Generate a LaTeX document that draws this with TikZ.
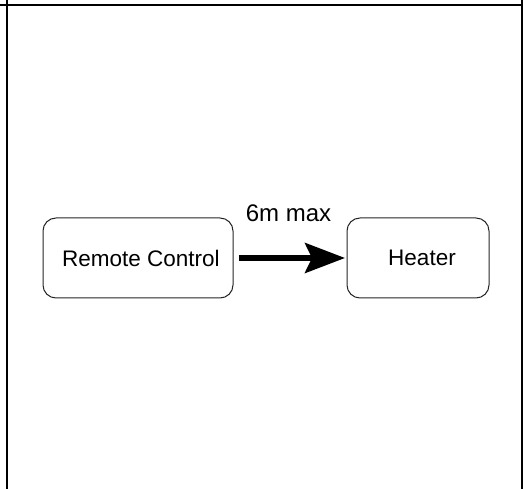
\documentclass[tikz,border=0pt]{standalone}
\usepackage{fontspec}
\setmainfont{Liberation Sans}
\usetikzlibrary{arrows.meta}

\tikzset{
  unitbox/.style={draw=black!85, line width=1pt, rounded corners=13pt, minimum height=80pt, inner sep=0pt, font={\fontsize{22.5}{27}\selectfont}},
  cable/.style={line width=5.5pt, -{Stealth[length=40pt, width=30pt, inset=7pt]}},
  frameline/.style={line width=2pt}
}

\begin{document}
\begin{tikzpicture}[x=1pt, y=-1pt]
    \useasboundingbox (0,0) rectangle (523,489);
    % frame
    \draw[frameline] (0,5) -- (523,5);
    \draw[frameline] (6.7,0) -- (6.7,489);
    \draw[frameline] (522,0) -- (522,489);
    % boxes
    \node[unitbox, minimum width=190pt] (remote) at (138,258) {\hspace{6pt}Remote Control};
    \node[unitbox, minimum width=142pt] (heater) at (418,258) {\hspace{8pt}Heater};
    % link
    \draw[cable, shorten >=1.5pt] ([xshift=5pt]remote.east) -- (heater.west)
      node[midway, above=30pt, xshift=-4pt, inner sep=3.3pt, font={\fontsize{24}{28}\selectfont}] (range) {6m max};
  \end{tikzpicture}
\end{document}
